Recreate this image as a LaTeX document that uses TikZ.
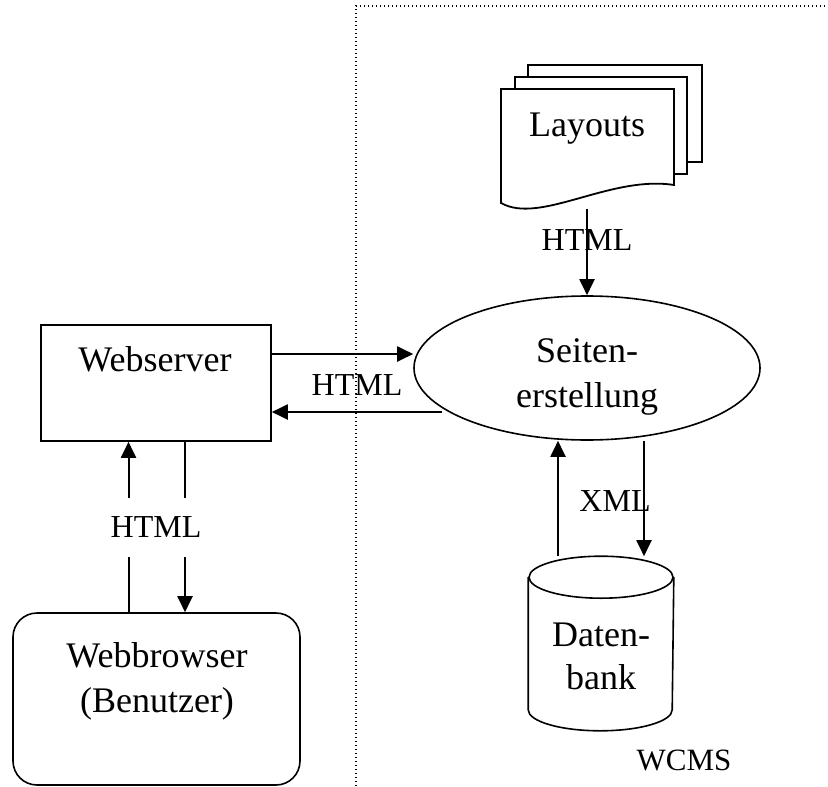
\documentclass[tikz,border=0pt]{standalone}
\usepackage{fontspec}
\setmainfont{Liberation Serif}
\usetikzlibrary{shapes.geometric,arrows.meta}

\begin{document}
\begin{tikzpicture}[x=.5pt,y=-.5pt,
    arr/.style={line width=1pt,-{Triangle[length=8pt,width=7.5pt]}},
    txt/.style={font=\fontsize{18}{22.5}\selectfont,align=center,inner sep=0pt},
    lbl/.style={font=\fontsize{16}{19}\selectfont,inner sep=0pt}]

  \useasboundingbox (0,0) rectangle (828,786);

  % WCMS border
  \draw[line width=.6pt,dash pattern=on .6pt off 1.4pt] (356,786) -- (356,6) -- (828,6);

  % stack of layouts
  \begin{scope}[line width=.9pt]
    \filldraw[fill=white] (528,65) rectangle (702,162);
    \filldraw[fill=white] (515,77) rectangle (687,174);
    \filldraw[fill=white] (501,89) -- (674,89) -- (674,185)
      .. controls (610,175) and (540,225) .. (501,203) -- cycle;
  \end{scope}

  \begin{scope}[every node/.style={draw,line width=.8pt}]
    \node[rectangle,minimum width=115pt,minimum height=58pt] (ws) at (156,383) {};
    \node[rectangle,rounded corners=12pt,minimum width=143.5pt,minimum height=86pt] (wb) at (156.5,699) {};
    \node[ellipse,minimum width=173pt,minimum height=72pt] (se) at (587,368) {};
    \node[draw=none,minimum width=72pt,minimum height=86.5pt] (db) at (601,643.5) {};
  \end{scope}

  % database drum
  \draw[line width=.8pt] ([yshift=-10.5pt]db.north) ellipse [x radius=36pt,y radius=10.5pt];
  \draw[line width=.8pt] ([yshift=-10.5pt]db.north west) -- ([yshift=10.5pt]db.south west)
    arc [start angle=180,end angle=360,x radius=36pt,y radius=10.5pt] -- ([yshift=-10.5pt]db.north east);

  \begin{scope}[every node/.style={txt}]
    \node[anchor=base] (layouts) at (587,137) {Layouts};
    \node[anchor=base] (wstext) at (155,371) {Webserver};
    \node (wbtext) at (157,681) {Webbrowser\\(Benutzer)};
    \node (setext) at (587,377) {Seiten-\\erstellung};
    \node[font=\fontsize{18}{21.5}\selectfont] (dbtext) at (601,656) {Daten-\\bank};
  \end{scope}

  \coordinate (lf) at (587,209);

  \draw[arr] (lf) -- (se.north);
  \draw[arr] ([yshift=14.5pt]ws.east) -- ([yshift=14.5pt]ws.east -| se.west);
  \draw[arr] ([xshift=14.5pt,yshift=-22pt]se.west) -- ([yshift=-14.5pt]ws.east);
  \draw[arr] ([xshift=-14pt]wb.north) -- ([xshift=-14pt]wb.north |- ws.south);
  \draw[arr] ([xshift=14.5pt]ws.south) -- ([xshift=14.5pt]ws.south |- wb.north);
  \draw[arr] ([xshift=-21.5pt]db.north) -- ([xshift=-21.5pt]db.north |- se.south);
  \draw[arr] ([xshift=21.5pt]db.north |- se.south) -- ([xshift=21.5pt]db.north);

  \begin{scope}[every node/.style={lbl}]
    \node[anchor=base] (h1) at (587,250) {HTML};
    \node[anchor=base] (h3) at (357,395) {HTML};
    \node[fill=white,minimum height=29.5pt,inner xsep=1pt] (h2) at (156,527.5) {HTML};
    \node[anchor=base] (xml) at (615,511) {XML};
    \node[anchor=base,font=\fontsize{15.5}{18}\selectfont] (wcms) at (684,770) {WCMS};
  \end{scope}

\end{tikzpicture}
\end{document}
